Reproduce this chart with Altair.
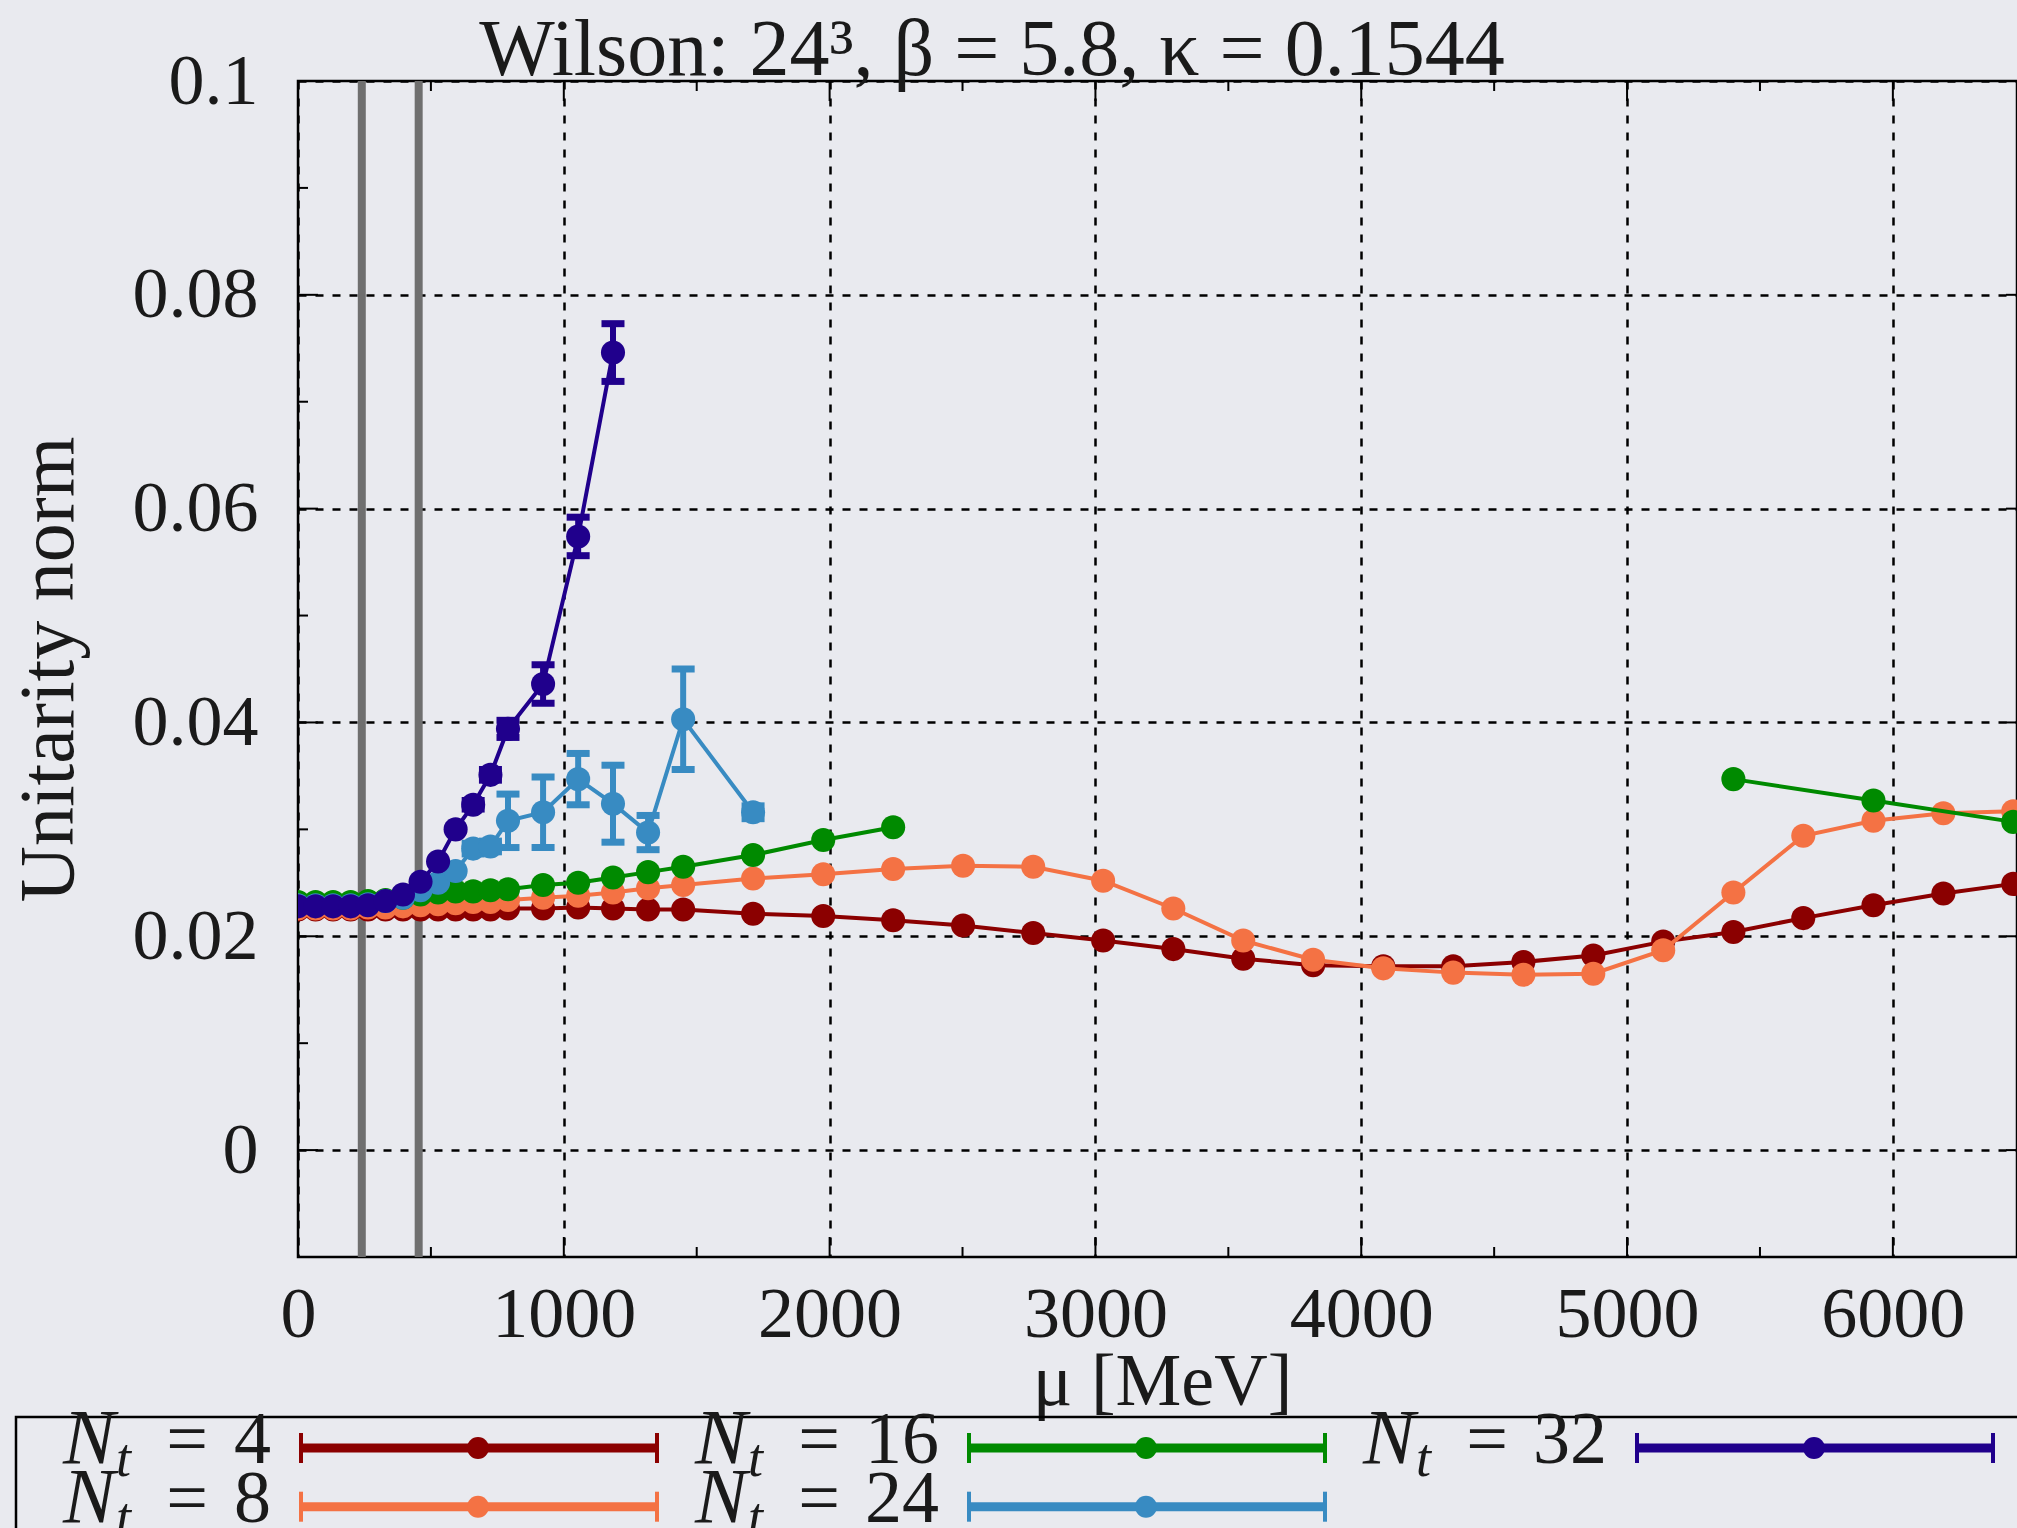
import altair as alt
import pandas as pd

# ---------------- data ----------------
mu_4 = [0, 66, 132, 198, 263, 329, 395, 461, 527, 593, 659, 724, 790, 922, 1054, 1185, 1317, 1449,
        1712, 1976, 2239, 2502, 2766, 3029, 3293, 3556, 3819, 4083, 4346, 4610, 4873, 5136, 5400,
        5663, 5927, 6190, 6453]
un_4 = [0.0225, 0.0225, 0.0225, 0.0225, 0.0225, 0.0225, 0.0225, 0.0225, 0.0225, 0.0225, 0.0225,
        0.0225, 0.0226, 0.0226, 0.0227, 0.0226, 0.0225, 0.0225, 0.0221, 0.0219, 0.0215, 0.0210,
        0.0203, 0.0196, 0.0188, 0.0179, 0.0173, 0.0172, 0.0172, 0.0176, 0.0182, 0.0195, 0.0204,
        0.0217, 0.0229, 0.0240, 0.0249]
err_4 = [0.0] * 37

mu_8 = mu_4
un_8 = [0.0226, 0.0226, 0.0226, 0.0226, 0.0227, 0.0227, 0.0228, 0.0229, 0.0230, 0.0231, 0.0232,
        0.0232, 0.0234, 0.0236, 0.0238, 0.0241, 0.0245, 0.0248, 0.0254, 0.0258, 0.0263, 0.0266,
        0.0265, 0.0252, 0.0226, 0.0196, 0.0178, 0.0170, 0.0166, 0.0164, 0.0165, 0.0187, 0.0241,
        0.0294, 0.0308, 0.0315, 0.0317]
err_8 = [0.0] * 37

mu_16 = [0, 66, 132, 198, 263, 329, 395, 461, 527, 593, 659, 724, 790, 922, 1054, 1185, 1317, 1449,
         1712, 1976, 2239, 5400, 5927, 6453]
un_16 = [0.0232, 0.0232, 0.0232, 0.0232, 0.0233, 0.0234, 0.0236, 0.0239, 0.0241, 0.0242, 0.0242,
         0.0243, 0.0244, 0.0248, 0.0250, 0.0255, 0.0260, 0.0265, 0.0276, 0.0290, 0.0302, 0.0347,
         0.0327, 0.0307]
err_16 = [0.0] * 24

mu_24 = [0, 66, 132, 198, 263, 329, 395, 461, 527, 593, 659, 724, 790, 922, 1054, 1185, 1317, 1449, 1712]
un_24 = [0.0229, 0.0229, 0.0229, 0.0229, 0.0230, 0.0233, 0.0236, 0.0243, 0.0250, 0.0261, 0.0282,
         0.0284, 0.0308, 0.0316, 0.0347, 0.0324, 0.0297, 0.0403, 0.0316]
err_24 = [0, 0, 0, 0, 0, 0, 0, 0, 0, 0, 0.0005, 0.0005, 0.0025, 0.0033, 0.0024, 0.0036, 0.0016,
          0.0047, 0.0006]

mu_32 = [0, 66, 132, 198, 263, 329, 395, 461, 527, 593, 659, 724, 790, 922, 1054, 1185]
un_32 = [0.0228, 0.0228, 0.0228, 0.0228, 0.0229, 0.0233, 0.0239, 0.0251, 0.0270, 0.0300, 0.0323,
         0.0351, 0.0394, 0.0436, 0.0574, 0.0746]
err_32 = [0, 0, 0, 0, 0, 0, 0, 0, 0, 0, 0.0004, 0.0005, 0.0008, 0.0018, 0.0018, 0.0027]

nt_labels = ["4", "8", "16", "24", "32"]
colors = ["#8b0000", "#f47244", "#008a00", "#388bc2", "#20008c"]

vlines = [240, 454]

x_major = [0, 1000, 2000, 3000, 4000, 5000, 6000]
x_minor = [500, 1500, 2500, 3500, 4500, 5500, 6500]
y_major = [0, 0.02, 0.04, 0.06, 0.08, 0.1]
y_minor = [-0.01, 0.01, 0.03, 0.05, 0.07, 0.09]

TITLE = "Wilson: 24³, β = 5.8, κ = 0.1544"

# ---------------- layout / style ----------------
W, H = 1719, 1176
PAD = {"left": 298, "top": 81, "right": 0, "bottom": 271}
FONT = "Liberation Serif"
TXT = "#1a1a1a"
BG = "#e9eaef"

xs = alt.Scale(domain=[0, 6467], nice=False, zero=False)
ys = alt.Scale(domain=[-0.01, 0.1], nice=False, zero=False)

x_axis = alt.Axis(values=x_major, format="d", grid=True, gridColor="#000", gridDash=[8, 9],
                  gridWidth=2.5, gridOpacity=1, ticks=False, domain=False,
                  labelFont=FONT, labelFontSize=72, labelColor=TXT, labelPadding=79,
                  labelBaseline="alphabetic", labelFlush=False, labelOverlap=False, labelBound=False,
                  title="μ [MeV]", titleFont=FONT, titleFontSize=74, titleFontWeight="normal",
                  titleColor=TXT, titleX=864, titleY=147, titleBaseline="alphabetic",
                  titleAlign="center")
y_axis = alt.Axis(values=y_major, format="~g", grid=True, gridColor="#000", gridDash=[8, 9],
                  gridWidth=2.5, gridOpacity=1, ticks=False, domain=False,
                  labelFont=FONT, labelFontSize=72, labelColor=TXT, labelPadding=40,
                  labelBaseline="middle", labelFlush=False, labelOverlap=False, labelBound=False,
                  title="Unitarity norm", titleFont=FONT, titleFontSize=78, titleFontWeight="normal",
                  titleColor=TXT, titleX=-249, titleY=H / 2, titleAngle=270, titleAlign="center",
                  titleBaseline="middle")


def X(field="x"):
    return alt.X(f"{field}:Q", scale=xs, axis=x_axis)


def Y(field="y"):
    return alt.Y(f"{field}:Q", scale=ys, axis=y_axis)


layers = []

# inward ticks
xmaj = pd.DataFrame({"x": x_major})
xmin = pd.DataFrame({"x": x_minor})
ymaj = pd.DataFrame({"y": y_major})
ymin = pd.DataFrame({"y": y_minor})
tick_style = dict(color="#000", strokeWidth=2)
layers.append(alt.Chart(xmaj).mark_rule(**tick_style).encode(
    x=X(), y=alt.value(H), y2=alt.value(H - 20)))
layers.append(alt.Chart(xmaj).mark_rule(**tick_style).encode(
    x=X(), y=alt.value(0), y2=alt.value(20)))
layers.append(alt.Chart(xmin).mark_rule(clip=True, **tick_style).encode(
    x=X(), y=alt.value(H), y2=alt.value(H - 10)))
layers.append(alt.Chart(xmin).mark_rule(clip=True, **tick_style).encode(
    x=X(), y=alt.value(0), y2=alt.value(10)))
layers.append(alt.Chart(ymaj).mark_rule(**tick_style).encode(
    y=Y(), x=alt.value(0), x2=alt.value(20)))
layers.append(alt.Chart(ymaj).mark_rule(**tick_style).encode(
    y=Y(), x=alt.value(W - 11), x2=alt.value(W)))
layers.append(alt.Chart(ymin).mark_rule(**tick_style).encode(
    y=Y(), x=alt.value(0), x2=alt.value(10)))

# gray vertical lines
layers.append(alt.Chart(pd.DataFrame({"x": vlines})).mark_rule(color="#6f6f6f", strokeWidth=8)
              .encode(x=X()))

# data series
series = [
    (mu_4, un_4, err_4),
    (mu_8, un_8, err_8),
    (mu_16, un_16, err_16),
    (mu_24, un_24, err_24),
    (mu_32, un_32, err_32),
]
for (mu, un, err), col in zip(series, colors):
    df = pd.DataFrame({"x": mu, "y": un, "e": err})
    df["seg"] = (df["x"].diff().fillna(0) > 1000).cumsum()
    df["lo"] = df["y"] - df["e"]
    df["hi"] = df["y"] + df["e"]
    base = alt.Chart(df)
    layers.append(base.mark_line(color=col, strokeWidth=4, clip=True).encode(
        x=X(), y=Y(), detail="seg:N"))
    eb = base.transform_filter("datum.e > 0")
    layers.append(eb.mark_rule(color=col, strokeWidth=6, clip=True).encode(
        x=X(), y=Y("lo"), y2="hi:Q"))
    layers.append(eb.mark_tick(orient="horizontal", color=col, size=23, thickness=7,
                               opacity=1, clip=True).encode(x=X(), y=Y("lo")))
    layers.append(eb.mark_tick(orient="horizontal", color=col, size=23, thickness=7,
                               opacity=1, clip=True).encode(x=X(), y=Y("hi")))
    layers.append(base.mark_circle(color=col, size=580, opacity=1, clip=True).encode(
        x=X(), y=Y()))

# ---------------- legend (built by hand: label on the left, sample on the right) ----------------
leg = pd.DataFrame({"lab": nt_labels, "color": colors})
leg["col"] = [i // 2 for i in range(len(leg))]
leg["row"] = [i % 2 for i in range(len(leg))]
leg["R"] = -27 + 668 * leg["col"]
leg["ty"] = 1382 + 58.7 * leg["row"]
leg["ly"] = leg["ty"] - 15
leg["nw"] = 36 * leg["lab"].str.len()
leg["xeq"] = leg["R"] - leg["nw"] - 48
leg["xN"] = leg["R"] - leg["nw"] - 120
leg["xt"] = leg["xN"] + 1
leg["tty"] = leg["ty"] + 13
leg["x0"] = leg["R"] + 30
leg["x1"] = leg["R"] + 386
leg["xd"] = leg["R"] + 207
leg["cy0"] = leg["ly"] - 15
leg["cy1"] = leg["ly"] + 15

PX = lambda f: alt.X(f"{f}:Q", scale=None, axis=None)
PY = lambda f: alt.Y(f"{f}:Q", scale=None, axis=None)
CC = alt.Color("color:N", scale=None, legend=None)

lb = alt.Chart(leg)
layers.append(alt.Chart(pd.DataFrame({"a": [0]})).mark_rect(
    fillOpacity=0, stroke="#000", strokeWidth=2.5).encode(
    x=alt.value(-282), x2=alt.value(W + 60), y=alt.value(1336), y2=alt.value(H + 400)))
layers.append(lb.mark_text(font=FONT, fontSize=74, align="right", baseline="alphabetic",
                           color=TXT).encode(x=PX("R"), y=PY("ty"), text="lab:N"))
layers.append(lb.mark_text(font=FONT, fontSize=74, align="center", baseline="alphabetic",
                           color=TXT, text="=").encode(x=PX("xeq"), y=PY("ty")))
layers.append(lb.mark_text(font=FONT, fontSize=78, fontStyle="italic", align="right",
                           baseline="alphabetic", color=TXT, text="N").encode(x=PX("xN"), y=PY("ty")))
layers.append(lb.mark_text(font=FONT, fontSize=54, fontStyle="italic", align="left",
                           baseline="alphabetic", color=TXT, text="t").encode(x=PX("xt"), y=PY("tty")))
layers.append(lb.mark_rule(strokeWidth=9).encode(x=PX("x0"), x2="x1:Q", y=PY("ly"), color=CC))
layers.append(lb.mark_rule(strokeWidth=4).encode(x=PX("x0"), y=PY("cy0"), y2="cy1:Q", color=CC))
layers.append(lb.mark_rule(strokeWidth=4).encode(x=PX("x1"), y=PY("cy0"), y2="cy1:Q", color=CC))
layers.append(lb.mark_point(filled=True, shape="circle", size=480, opacity=1).encode(
    x=PX("xd"), y=PY("ly"), color=CC))

# title
layers.append(alt.Chart(pd.DataFrame({"a": [0]})).mark_text(
    text=TITLE, font=FONT, fontSize=80, align="center", baseline="alphabetic", color=TXT).encode(
    x=alt.value(694), y=alt.value(-6)))

chart = alt.layer(*layers).properties(
    width=W, height=H, padding=PAD, autosize=alt.AutoSizeParams(type="none")
).configure(background=BG).configure_view(stroke="#000", strokeWidth=2.5)

chart.save("out.html", embed_options={"renderer": "svg", "actions": False})
